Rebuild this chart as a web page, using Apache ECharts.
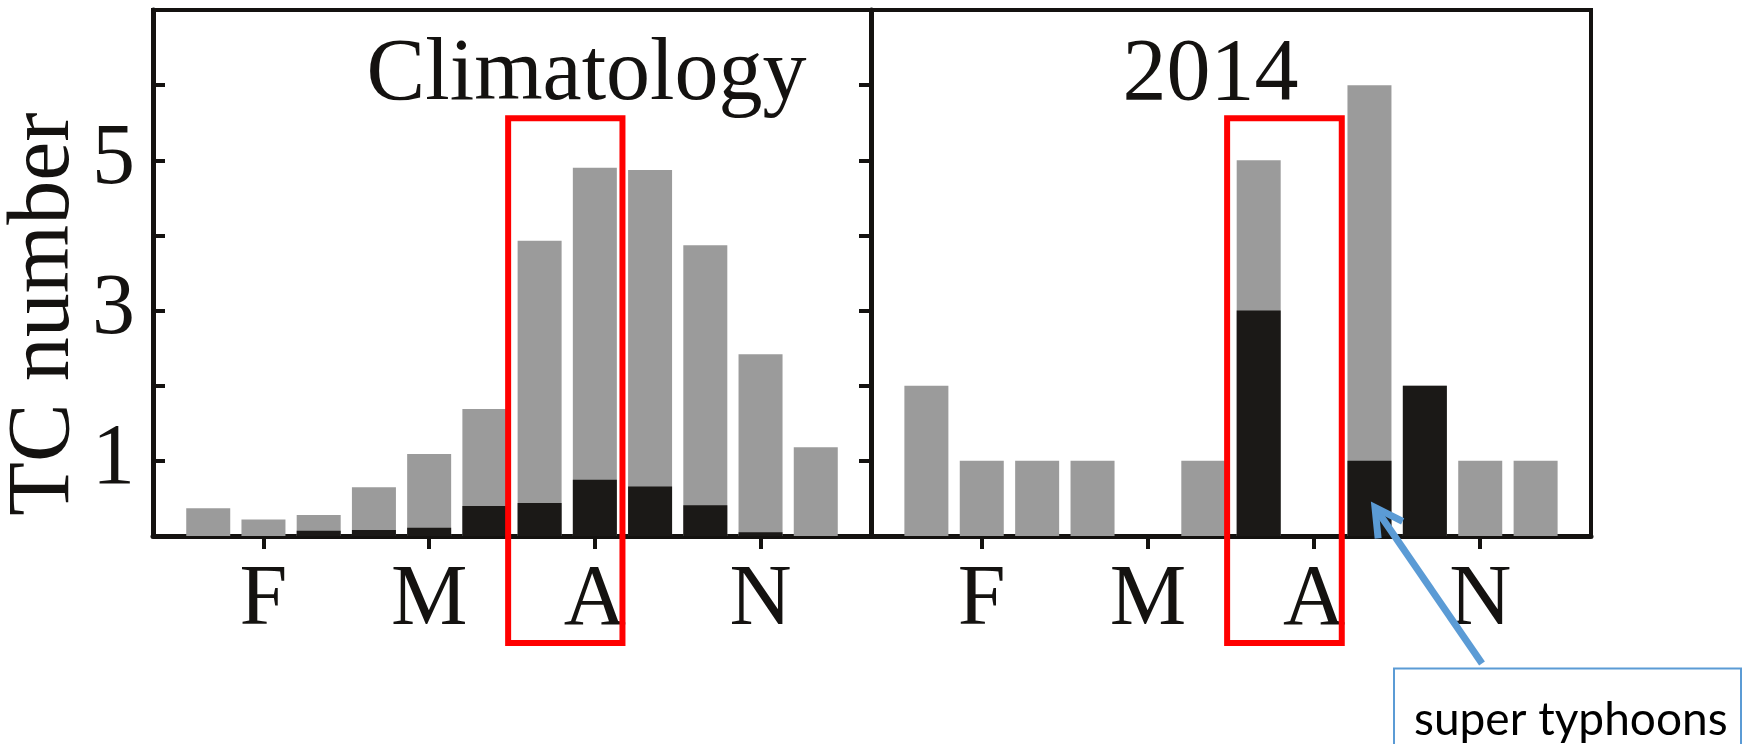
<!DOCTYPE html>
<html>
<head>
<meta charset="utf-8">
<script src="https://cdn.jsdelivr.net/npm/echarts@6/dist/echarts.min.js"></script>
<style>
  html, body { margin: 0; padding: 0; background: #ffffff; }
  #chart { width: 1750px; height: 744px; }
</style>
</head>
<body>
<div id="chart"></div>
<script>
// Monthly tropical cyclone counts: all TCs (grey) and super typhoons (black)
const months = [1, 2, 3, 4, 5, 6, 7, 8, 9, 10, 11, 12];
const monthTickValues = [2, 5, 8, 11];
const monthTickLabels = ['F', 'M', 'A', 'N'];
const countLabelValues = [1, 3, 5];

const climAll   = [0.37, 0.22, 0.28, 0.65, 1.09, 1.69, 3.93, 4.90, 4.87, 3.87, 2.42, 1.18];
const climSuper = [0.00, 0.00, 0.07, 0.08, 0.11, 0.40, 0.44, 0.75, 0.66, 0.41, 0.05, 0.00];
const yr2014All   = [2, 1, 1, 1, 0, 1, 5, 0, 6, 2, 1, 1];
const yr2014Super = [0, 0, 0, 0, 0, 0, 3, 0, 1, 2, 0, 0];

const panelTitles = ['Climatology', '2014'];
const countAxisTitle = 'TC number';
const calloutText = 'super typhoons';

// ---- styling ----
const SERIF = '"Liberation Serif", "Times New Roman", serif';
const INK = '#141210';
const GREY = '#9b9b9b';
const BLACK = '#1b1917';
const RED = '#ff0000';
const BLUE = '#5b9bd5';

function pairs(vals) { return months.map((m, i) => [m, vals[i]]); }

function monthAxis(gridIndex) {
  return {
    type: 'value', gridIndex, min: 0, max: 13,
    axisLine: { show: true, onZero: false, lineStyle: { color: INK, width: 5 } },
    axisTick: { show: true, customValues: monthTickValues, length: 13, lineStyle: { color: INK, width: 4 } },
    axisLabel: {
      customValues: monthTickValues,
      formatter: v => monthTickLabels[monthTickValues.indexOf(v)] || '',
      fontFamily: SERIF, fontSize: 86, color: INK, margin: 22
    },
    splitLine: { show: false }
  };
}

function countAxis(gridIndex, position, showLabels) {
  return {
    type: 'value', gridIndex, position, min: 0, max: 7, interval: 1,
    axisLine: { show: true, lineStyle: { color: INK, width: 5 } },
    axisTick: { show: true, inside: true, length: 12, lineStyle: { color: INK, width: 4 } },
    axisLabel: {
      show: showLabels,
      formatter: v => countLabelValues.includes(v) ? String(v) : '',
      fontFamily: SERIF, fontSize: 86, color: INK, margin: 18
    },
    splitLine: { show: false }
  };
}

function barSeries(gridIndex, vals, color, overlay) {
  const s = {
    type: 'bar', xAxisIndex: gridIndex, yAxisIndex: gridIndex,
    data: pairs(vals), barWidth: 44,
    itemStyle: { color },
    silent: true
  };
  if (overlay) s.barGap = '-100%';
  return s;
}

const chart = echarts.init(document.getElementById('chart'), null, { renderer: 'canvas' });

chart.setOption({
  animation: false,
  backgroundColor: '#ffffff',
  grid: [
    { left: 153, top: 10, width: 718, height: 526, show: true, borderColor: INK, borderWidth: 4 },
    { left: 871, top: 10, width: 720, height: 526, show: true, borderColor: INK, borderWidth: 4 }
  ],
  xAxis: [monthAxis(0), monthAxis(1)],
  yAxis: [countAxis(0, 'left', true), countAxis(1, 'right', false)],
  series: [
    barSeries(0, climAll, GREY, false),
    barSeries(0, climSuper, BLACK, true),
    barSeries(1, yr2014All, GREY, false),
    barSeries(1, yr2014Super, BLACK, true)
  ]
});

// ---- annotations placed through the axes ----
const toPx = (g, pt) => chart.convertToPixel({ gridIndex: g }, pt);

// July-August highlight frame in each panel
const frameSpan = { from: 6.43, to: 8.5, top: 5.56, below: 107 };
const frames = [0, 1].map(g => {
  const a = toPx(g, [frameSpan.from, frameSpan.top]);
  const b = toPx(g, [frameSpan.to, 0]);
  return {
    type: 'rect', silent: true, z: 100,
    shape: { x: a[0], y: a[1], width: b[0] - a[0], height: b[1] + frameSpan.below - a[1] },
    style: { fill: null, stroke: RED, lineWidth: 6 }
  };
});

// Panel titles
const titles = [
  { g: 0, x: 7.85, text: panelTitles[0] },
  { g: 1, x: 6.13, text: panelTitles[1] }
].map(t => {
  const p = toPx(t.g, [t.x, 6.12]);
  return {
    type: 'text', silent: true, z: 100,
    x: p[0], y: p[1],
    style: { text: t.text, font: '88px ' + SERIF, fill: INK, align: 'center', verticalAlign: 'middle' }
  };
});

// Rotated axis title
const axisTitle = {
  type: 'text', silent: true, z: 100,
  x: 45, y: 314, rotation: Math.PI / 2,
  style: { text: countAxisTitle, font: '88px ' + SERIF, fill: INK, align: 'center', verticalAlign: 'middle' }
};

// Callout arrow pointing at the September 2014 super typhoon bar
const tip = toPx(1, [9.1, 0.38]);
const tail = [tip[0] + 107, tip[1] + 156];
const ang = Math.atan2(tail[1] - tip[1], tail[0] - tip[0]);
const armLen = 31, spread = 0.5;
const arm1 = [tip[0] + armLen * Math.cos(ang - spread), tip[1] + armLen * Math.sin(ang - spread)];
const arm2 = [tip[0] + armLen * Math.cos(ang + spread), tip[1] + armLen * Math.sin(ang + spread)];
const arrow = [
  { type: 'polyline', silent: true, z: 110, shape: { points: [tip, tail] },
    style: { stroke: BLUE, lineWidth: 7, fill: null } },
  { type: 'polyline', silent: true, z: 110, shape: { points: [arm1, tip, arm2] },
    style: { stroke: BLUE, lineWidth: 7, fill: null, lineJoin: 'miter' } }
];

const boxTop = tail[1] + 5;
const callout = [
  { type: 'rect', silent: true, z: 105,
    shape: { x: 1394, y: boxTop, width: 347, height: 140 },
    style: { fill: '#ffffff', stroke: BLUE, lineWidth: 2 } },
  { type: 'text', silent: true, z: 106,
    x: 1414, y: boxTop + 52,
    style: { text: calloutText, font: '46px Lato, "Open Sans", sans-serif', fill: '#000000', align: 'left', verticalAlign: 'middle' } }
];

chart.setOption({ graphic: [].concat(frames, titles, [axisTitle], arrow, callout) });
</script>
</body>
</html>
